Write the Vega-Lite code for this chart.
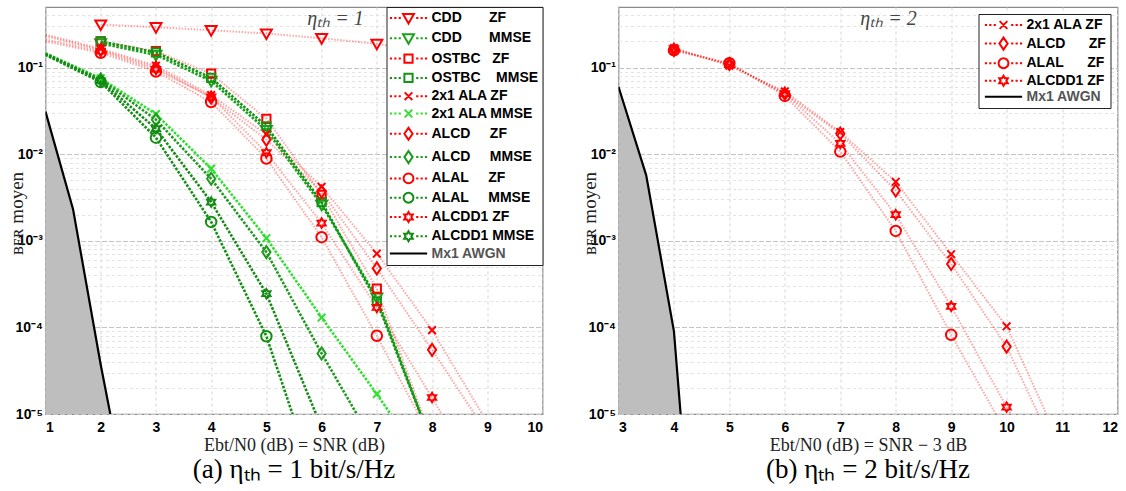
{
"$schema": "https://vega.github.io/schema/vega-lite/v6.json",
"background": "white",
"padding": {"left": 6.5, "top": 5, "right": 0, "bottom": 0},
"spacing": 35,
"config": {
 "view": {"stroke": "#8a8a8a", "strokeWidth": 1.2},
 "style": {"guide-title": {"fontSize": 18, "font": "Liberation Serif", "fontWeight": "normal"}, "guide-label": {"fontSize": 14, "font": "Liberation Sans", "fontWeight": "bold"}},
 "axis": {"labelFont": "Liberation Sans", "labelFontWeight": "bold", "labelFontSize": 14, "labelColor": "#000", "domain": false, "ticks": false, "titleFont": "Liberation Serif", "titleFontWeight": "normal", "titleColor": "#222", "titleFontSize": 18},
 "legend": {"labelFont": "Liberation Sans", "labelFontWeight": "bold", "labelFontSize": 14, "labelColor": "#000"}
},
"datasets": {
 "left": [
  {"series":"CDD ZF","x":2,"ber":0.314},{"series":"CDD ZF","x":3,"ber":0.292},{"series":"CDD ZF","x":4,"ber":0.27},{"series":"CDD ZF","x":5,"ber":0.247},{"series":"CDD ZF","x":6,"ber":0.218},{"series":"CDD ZF","x":7,"ber":0.188},{"series":"CDD ZF","x":8,"ber":0.15},{"series":"CDD ZF","x":9,"ber":0.1},{"series":"CDD ZF","x":10,"ber":0.046},
  {"series":"CDD MMSE","x":2,"ber":0.19},{"series":"CDD MMSE","x":3,"ber":0.14},{"series":"CDD MMSE","x":4,"ber":0.07},{"series":"CDD MMSE","x":5,"ber":0.019},{"series":"CDD MMSE","x":6,"ber":0.0026},{"series":"CDD MMSE","x":7,"ber":0.00022},{"series":"CDD MMSE","x":8,"ber":4.5e-6},
  {"series":"OSTBC ZF","x":2,"ber":0.2},{"series":"OSTBC ZF","x":3,"ber":0.155},{"series":"OSTBC ZF","x":4,"ber":0.085},{"series":"OSTBC ZF","x":5,"ber":0.0256},{"series":"OSTBC ZF","x":6,"ber":0.0034},{"series":"OSTBC ZF","x":7,"ber":0.00028},{"series":"OSTBC ZF","x":8,"ber":5e-6},
  {"series":"OSTBC MMSE","x":2,"ber":0.2},{"series":"OSTBC MMSE","x":3,"ber":0.15},{"series":"OSTBC MMSE","x":4,"ber":0.076},{"series":"OSTBC MMSE","x":5,"ber":0.021},{"series":"OSTBC MMSE","x":6,"ber":0.0028},{"series":"OSTBC MMSE","x":7,"ber":0.0002},{"series":"OSTBC MMSE","x":8,"ber":4.5e-6},
  {"series":"2x1 ALA ZF","x":1,"ber":0.24},{"series":"2x1 ALA ZF","x":2,"ber":0.165},{"series":"2x1 ALA ZF","x":3,"ber":0.105},{"series":"2x1 ALA ZF","x":4,"ber":0.048},{"series":"2x1 ALA ZF","x":5,"ber":0.017},{"series":"2x1 ALA ZF","x":6,"ber":0.0042},{"series":"2x1 ALA ZF","x":7,"ber":0.00071},{"series":"2x1 ALA ZF","x":8,"ber":9.3e-5},{"series":"2x1 ALA ZF","x":9,"ber":8e-6},
  {"series":"2x1 ALA MMSE","x":1,"ber":0.146},{"series":"2x1 ALA MMSE","x":2,"ber":0.075},{"series":"2x1 ALA MMSE","x":3,"ber":0.029},{"series":"2x1 ALA MMSE","x":4,"ber":0.0068},{"series":"2x1 ALA MMSE","x":5,"ber":0.00107},{"series":"2x1 ALA MMSE","x":6,"ber":0.00013},{"series":"2x1 ALA MMSE","x":7,"ber":1.7e-5},{"series":"2x1 ALA MMSE","x":8,"ber":2e-6},
  {"series":"ALCD ZF","x":1,"ber":0.23},{"series":"ALCD ZF","x":2,"ber":0.16},{"series":"ALCD ZF","x":3,"ber":0.1},{"series":"ALCD ZF","x":4,"ber":0.045},{"series":"ALCD ZF","x":5,"ber":0.0147},{"series":"ALCD ZF","x":6,"ber":0.0037},{"series":"ALCD ZF","x":7,"ber":0.00048},{"series":"ALCD ZF","x":8,"ber":5.5e-5},{"series":"ALCD ZF","x":9,"ber":6e-6},
  {"series":"ALCD MMSE","x":1,"ber":0.145},{"series":"ALCD MMSE","x":2,"ber":0.073},{"series":"ALCD MMSE","x":3,"ber":0.025},{"series":"ALCD MMSE","x":4,"ber":0.0052},{"series":"ALCD MMSE","x":5,"ber":0.00074},{"series":"ALCD MMSE","x":6,"ber":5e-5},{"series":"ALCD MMSE","x":7,"ber":4e-6},
  {"series":"ALAL ZF","x":1,"ber":0.2},{"series":"ALAL ZF","x":2,"ber":0.148},{"series":"ALAL ZF","x":3,"ber":0.09},{"series":"ALAL ZF","x":4,"ber":0.04},{"series":"ALAL ZF","x":5,"ber":0.0089},{"series":"ALAL ZF","x":6,"ber":0.0011},{"series":"ALAL ZF","x":7,"ber":8e-5},{"series":"ALAL ZF","x":8,"ber":5e-6},
  {"series":"ALAL MMSE","x":1,"ber":0.14},{"series":"ALAL MMSE","x":2,"ber":0.068},{"series":"ALAL MMSE","x":3,"ber":0.0155},{"series":"ALAL MMSE","x":4,"ber":0.00165},{"series":"ALAL MMSE","x":5,"ber":7.9e-5},{"series":"ALAL MMSE","x":6,"ber":1e-6},
  {"series":"ALCDD1 ZF","x":1,"ber":0.21},{"series":"ALCDD1 ZF","x":2,"ber":0.155},{"series":"ALCDD1 ZF","x":3,"ber":0.095},{"series":"ALCDD1 ZF","x":4,"ber":0.046},{"series":"ALCDD1 ZF","x":5,"ber":0.0104},{"series":"ALCDD1 ZF","x":6,"ber":0.0016},{"series":"ALCDD1 ZF","x":7,"ber":0.00017},{"series":"ALCDD1 ZF","x":8,"ber":1.55e-5},{"series":"ALCDD1 ZF","x":9,"ber":1.2e-6},
  {"series":"ALCDD1 MMSE","x":1,"ber":0.143},{"series":"ALCDD1 MMSE","x":2,"ber":0.07},{"series":"ALCDD1 MMSE","x":3,"ber":0.0197},{"series":"ALCDD1 MMSE","x":4,"ber":0.0028},{"series":"ALCDD1 MMSE","x":5,"ber":0.000245},{"series":"ALCDD1 MMSE","x":6,"ber":7e-6},
  {"series":"Mx1 AWGN","x":1,"ber":0.031},{"series":"Mx1 AWGN","x":1.5,"ber":0.0023},{"series":"Mx1 AWGN","x":2,"ber":3.7e-5},{"series":"Mx1 AWGN","x":2.5,"ber":8.5e-7}
 ],
 "right": [
  {"series":"2x1 ALA ZF","x":4,"ber":0.168},{"series":"2x1 ALA ZF","x":5,"ber":0.105},{"series":"2x1 ALA ZF","x":6,"ber":0.053},{"series":"2x1 ALA ZF","x":7,"ber":0.018},{"series":"2x1 ALA ZF","x":8,"ber":0.0048},{"series":"2x1 ALA ZF","x":9,"ber":0.0007},{"series":"2x1 ALA ZF","x":10,"ber":0.000103},{"series":"2x1 ALA ZF","x":11,"ber":4e-6},
  {"series":"ALCD ZF","x":4,"ber":0.16},{"series":"ALCD ZF","x":5,"ber":0.11},{"series":"ALCD ZF","x":6,"ber":0.05},{"series":"ALCD ZF","x":7,"ber":0.0173},{"series":"ALCD ZF","x":8,"ber":0.0038},{"series":"ALCD ZF","x":9,"ber":0.00054},{"series":"ALCD ZF","x":10,"ber":6e-5},{"series":"ALCD ZF","x":11,"ber":2.6e-6},
  {"series":"ALAL ZF","x":4,"ber":0.158},{"series":"ALAL ZF","x":5,"ber":0.112},{"series":"ALAL ZF","x":6,"ber":0.047},{"series":"ALAL ZF","x":7,"ber":0.0107},{"series":"ALAL ZF","x":8,"ber":0.0013},{"series":"ALAL ZF","x":9,"ber":8.2e-5},{"series":"ALAL ZF","x":10,"ber":6e-6},
  {"series":"ALCDD1 ZF","x":4,"ber":0.165},{"series":"ALCDD1 ZF","x":5,"ber":0.108},{"series":"ALCDD1 ZF","x":6,"ber":0.05},{"series":"ALCDD1 ZF","x":7,"ber":0.0133},{"series":"ALCDD1 ZF","x":8,"ber":0.002},{"series":"ALCDD1 ZF","x":9,"ber":0.000175},{"series":"ALCDD1 ZF","x":10,"ber":1.2e-5},{"series":"ALCDD1 ZF","x":11,"ber":1e-6},
  {"series":"Mx1 AWGN","x":3,"ber":0.06},{"series":"Mx1 AWGN","x":3.5,"ber":0.0057},{"series":"Mx1 AWGN","x":4,"ber":9e-5},{"series":"Mx1 AWGN","x":4.5,"ber":1e-8}
 ]
},
"resolve": {"scale": {"x": "independent", "y": "independent", "color": "independent"}, "legend": {"color": "independent"}},
"hconcat": [
 {
  "width": 497, "height": 407,
  "data": {"name": "left"},
  "title": {"text": "(a) ηₜₕ = 1 bit/s/Hz", "orient": "bottom", "font": "Liberation Serif", "fontSize": 27, "fontWeight": "normal", "color": "#000", "offset": 3, "anchor": "middle"},
  "encoding": {
   "x": {"field": "x", "type": "quantitative", "scale": {"domain": [1, 10], "nice": false, "zero": false},
    "axis": {"values": [1,2,3,4,5,6,7,8,9,10], "grid": true, "gridColor": "#d4d4d4", "gridDash": [3,3], "labelPadding": 6, "titlePadding": 2, "titleFontSize": 18, "title": "Ebt/N0 (dB) = SNR (dB)"}},
   "y": {"field": "ber", "type": "quantitative", "scale": {"type": "log", "domain": [1e-5, 0.5], "nice": false},
    "axis": {"values": [1e-5,2e-5,3e-5,4e-5,5e-5,6e-5,7e-5,8e-5,9e-5,1e-4,2e-4,3e-4,4e-4,5e-4,6e-4,7e-4,8e-4,9e-4,0.001,0.002,0.003,0.004,0.005,0.006,0.007,0.008,0.009,0.01,0.02,0.03,0.04,0.05,0.06,0.07,0.08,0.09,0.1,0.2,0.3,0.4],
     "labelExpr": "abs(log(datum.value)/LN10 - round(log(datum.value)/LN10)) < 0.01 ? '10' + ['⁻⁵','⁻⁴','⁻³','⁻²','⁻¹'][round(log(datum.value)/LN10) + 5] : ''",
     "labelOverlap": false, "labelPadding": 3, "grid": true,
     "gridColor": {"condition": {"test": "abs(log(datum.value)/LN10 - round(log(datum.value)/LN10)) < 0.01", "value": "#c4c4c4"}, "value": "#e3e3e3"},
     "gridDash": {"condition": {"test": "abs(log(datum.value)/LN10 - round(log(datum.value)/LN10)) < 0.01", "value": [5,2]}, "value": [3,3]},
     "title": "ʙᴇʀ moyen", "titleX": -29, "titleY": 206, "titleBaseline": "middle", "titleFontSize": 19}},
   "color": {"field": "series", "type": "nominal",
    "scale": {"domain": ["CDD ZF","CDD MMSE","OSTBC ZF","OSTBC MMSE","2x1 ALA ZF","2x1 ALA MMSE","ALCD ZF","ALCD MMSE","ALAL ZF","ALAL MMSE","ALCDD1 ZF","ALCDD1 MMSE","Mx1 AWGN"],
     "range": ["#ff0000","#1aa31a","#ff0000","#149414","#ff0000","#2ee02e","#ff0000","#1e9a1e","#ff0000","#109010","#ff0000","#138a13","#000000"]},
    "legend": {"title": null, "orient": "top-right", "offset": 0, "padding": 4, "fillColor": "white", "strokeColor": "#222",
     "labelFont": "Liberation Sans", "labelFontWeight": "bold", "labelFontSize": 14, "labelColor": "#000", "labelLimit": 0,
     "symbolSize": 120, "symbolStrokeWidth": 2, "symbolOpacity": 1, "symbolDash": [], "rowPadding": 1.3, "symbolOffset": 11, "labelOffset": 16,
     "labelExpr": "['CDD\u00a0\u00a0\u00a0\u00a0\u00a0\u00a0\u00a0ZF','CDD\u00a0\u00a0\u00a0\u00a0\u00a0\u00a0\u00a0MMSE','OSTBC\u00a0\u00a0\u00a0ZF','OSTBC\u00a0\u00a0\u00a0\u00a0MMSE','2x1 ALA ZF','2x1 ALA MMSE','ALCD\u00a0\u00a0\u00a0\u00a0\u00a0ZF','ALCD\u00a0\u00a0\u00a0\u00a0\u00a0MMSE','ALAL\u00a0\u00a0\u00a0\u00a0\u00a0ZF','ALAL\u00a0\u00a0\u00a0\u00a0\u00a0MMSE','ALCDD1 ZF','ALCDD1 MMSE','Mx1 AWGN'][indexof(['CDD ZF','CDD MMSE','OSTBC ZF','OSTBC MMSE','2x1 ALA ZF','2x1 ALA MMSE','ALCD ZF','ALCD MMSE','ALAL ZF','ALAL MMSE','ALCDD1 ZF','ALCDD1 MMSE','Mx1 AWGN'], datum.value)]",
     "encode": {
      "labels": {"update": {"fill": {"signal": "datum.value === 'Mx1 AWGN' ? '#555555' : '#000000'"}}},
      "symbols": {"update": {"fill": {"value": "transparent"}, "strokeDash": {"value": []}, "opacity": {"value": 1}, "shape": {"signal": "datum.value === 'Mx1 AWGN' ? 'M-3.4,0L3.4,0' : 'M-3.4,0L-3,0M-2.6,0L-2.2,0M-1.8,0L-1.4,0M1.4,0L1.8,0M2.2,0L2.6,0M3,0L3.4,0' + ['M-1,-0.75L1,-0.75L0,1Z','M-0.75,-0.75L0.75,-0.75L0.75,0.75L-0.75,0.75Z','M-0.7,-0.7L0.7,0.7M-0.7,0.7L0.7,-0.7','M0,-1.1L0.75,0L0,1.1L-0.75,0Z','M-0.9,0A0.9,0.9,0,1,0,0.9,0A0.9,0.9,0,1,0,-0.9,0Z','M0,-0.9L0.26,-0.45L0.78,-0.45L0.52,0L0.78,0.45L0.26,0.45L0,0.9L-0.26,0.45L-0.78,0.45L-0.52,0L-0.78,-0.45L-0.26,-0.45Z'][floor(indexof(['CDD ZF','CDD MMSE','OSTBC ZF','OSTBC MMSE','2x1 ALA ZF','2x1 ALA MMSE','ALCD ZF','ALCD MMSE','ALAL ZF','ALAL MMSE','ALCDD1 ZF','ALCDD1 MMSE'], datum.value) / 2)]"}}}
     }}}
  },
  "layer": [
   {"transform": [{"filter": "datum.series === 'Mx1 AWGN'"}], "mark": {"type": "area", "clip": true}, "encoding": {"y2": {"datum": 1e-5}, "color": {"value": "#bebebe"}}},
   {"transform": [{"filter": "indexof(datum.series, 'ZF') >= 0"}], "mark": {"type": "line", "strokeWidth": 2, "strokeDash": [1.5,1.5], "opacity": 0.35, "clip": true}, "encoding": {}},
   {"transform": [{"filter": "indexof(datum.series, 'MMSE') >= 0"}], "mark": {"type": "line", "strokeWidth": 2.6, "strokeDash": [2.5,1.5], "clip": true}, "encoding": {}},
   {"transform": [{"filter": "datum.series === 'Mx1 AWGN'"}], "mark": {"type": "line", "strokeWidth": 2.2, "clip": true}, "encoding": {}},
   {"transform": [{"filter": "indexof(datum.series, 'CDD ') === 0 && datum.x >= 2"}], "mark": {"type": "point", "shape": "M-1,-0.75L1,-0.75L0,1Z", "filled": false, "strokeWidth": 2, "size": 120, "opacity": 1, "clip": true}, "encoding": {}},
   {"transform": [{"filter": "indexof(datum.series, 'OSTBC') === 0 && datum.x >= 2"}], "mark": {"type": "point", "shape": "M-0.75,-0.75L0.75,-0.75L0.75,0.75L-0.75,0.75Z", "filled": false, "strokeWidth": 2, "size": 120, "opacity": 1, "clip": true}, "encoding": {}},
   {"transform": [{"filter": "indexof(datum.series, '2x1 ALA') === 0 && datum.x >= 2"}], "mark": {"type": "point", "shape": "M-0.7,-0.7L0.7,0.7M-0.7,0.7L0.7,-0.7", "filled": false, "strokeWidth": 2, "size": 120, "opacity": 1, "clip": true}, "encoding": {}},
   {"transform": [{"filter": "(datum.series === 'ALCD ZF' || datum.series === 'ALCD MMSE') && datum.x >= 2"}], "mark": {"type": "point", "shape": "M0,-1.1L0.75,0L0,1.1L-0.75,0Z", "filled": false, "strokeWidth": 2, "size": 120, "opacity": 1, "clip": true}, "encoding": {}},
   {"transform": [{"filter": "indexof(datum.series, 'ALAL') === 0 && datum.x >= 2"}], "mark": {"type": "point", "shape": "circle", "filled": false, "strokeWidth": 2, "size": 110, "opacity": 1, "clip": true}, "encoding": {}},
   {"transform": [{"filter": "indexof(datum.series, 'ALCDD1') === 0 && datum.x >= 2"}], "mark": {"type": "point", "shape": "M0,-0.9L0.26,-0.45L0.78,-0.45L0.52,0L0.78,0.45L0.26,0.45L0,0.9L-0.26,0.45L-0.78,0.45L-0.52,0L-0.78,-0.45L-0.26,-0.45Z", "filled": false, "strokeWidth": 2, "size": 110, "opacity": 1, "clip": true}, "encoding": {}},
   {"transform": [{"filter": "datum.series === 'CDD ZF' && datum.x === 2"}], "mark": {"type": "text", "font": "Liberation Serif", "fontSize": 20, "fontStyle": "italic", "clip": false},
    "encoding": {"x": {"datum": 6.25}, "y": {"datum": 0.36}, "text": {"value": "ηₜₕ = 1"}, "color": {"value": "#444444"}}}
  ]
 },
 {
  "width": 499, "height": 407,
  "data": {"name": "right"},
  "title": {"text": "(b) ηₜₕ = 2 bit/s/Hz", "orient": "bottom", "font": "Liberation Serif", "fontSize": 27, "fontWeight": "normal", "color": "#000", "offset": 3, "anchor": "middle"},
  "encoding": {
   "x": {"field": "x", "type": "quantitative", "scale": {"domain": [3, 12], "nice": false, "zero": false},
    "axis": {"values": [3,4,5,6,7,8,9,10,11,12], "grid": true, "gridColor": "#d4d4d4", "gridDash": [3,3], "labelPadding": 6, "titlePadding": 2, "titleFontSize": 18, "title": "Ebt/N0 (dB) = SNR − 3 dB"}},
   "y": {"field": "ber", "type": "quantitative", "scale": {"type": "log", "domain": [1e-5, 0.5], "nice": false},
    "axis": {"values": [1e-5,2e-5,3e-5,4e-5,5e-5,6e-5,7e-5,8e-5,9e-5,1e-4,2e-4,3e-4,4e-4,5e-4,6e-4,7e-4,8e-4,9e-4,0.001,0.002,0.003,0.004,0.005,0.006,0.007,0.008,0.009,0.01,0.02,0.03,0.04,0.05,0.06,0.07,0.08,0.09,0.1,0.2,0.3,0.4],
     "labelExpr": "abs(log(datum.value)/LN10 - round(log(datum.value)/LN10)) < 0.01 ? '10' + ['⁻⁵','⁻⁴','⁻³','⁻²','⁻¹'][round(log(datum.value)/LN10) + 5] : ''",
     "labelOverlap": false, "labelPadding": 3, "grid": true,
     "gridColor": {"condition": {"test": "abs(log(datum.value)/LN10 - round(log(datum.value)/LN10)) < 0.01", "value": "#c4c4c4"}, "value": "#e3e3e3"},
     "gridDash": {"condition": {"test": "abs(log(datum.value)/LN10 - round(log(datum.value)/LN10)) < 0.01", "value": [5,2]}, "value": [3,3]},
     "title": "ʙᴇʀ moyen", "titleX": -29, "titleY": 206, "titleBaseline": "middle", "titleFontSize": 19}},
   "color": {"field": "series", "type": "nominal",
    "scale": {"domain": ["2x1 ALA ZF","ALCD ZF","ALAL ZF","ALCDD1 ZF","Mx1 AWGN"], "range": ["#ff0000","#ff0000","#ff0000","#ff0000","#000000"]},
    "legend": {"title": null, "orient": "top-right", "offset": 7, "padding": 4, "fillColor": "white", "strokeColor": "#222",
     "labelFont": "Liberation Sans", "labelFontWeight": "bold", "labelFontSize": 14, "labelColor": "#000", "labelLimit": 0,
     "symbolSize": 120, "symbolStrokeWidth": 2, "symbolOpacity": 1, "symbolDash": [], "rowPadding": -0.4, "symbolOffset": 14, "labelOffset": 16,
     "labelExpr": "['2x1 ALA ZF','ALCD\u00a0\u00a0\u00a0\u00a0\u00a0\u00a0ZF','ALAL\u00a0\u00a0\u00a0\u00a0\u00a0\u00a0ZF','ALCDD1 ZF','Mx1 AWGN'][indexof(['2x1 ALA ZF','ALCD ZF','ALAL ZF','ALCDD1 ZF','Mx1 AWGN'], datum.value)]",
     "encode": {
      "labels": {"update": {"fill": {"signal": "datum.value === 'Mx1 AWGN' ? '#555555' : '#000000'"}}},
      "symbols": {"update": {"fill": {"value": "transparent"}, "strokeDash": {"value": []}, "opacity": {"value": 1}, "shape": {"signal": "datum.value === 'Mx1 AWGN' ? 'M-3.4,0L3.4,0' : 'M-3.4,0L-3,0M-2.6,0L-2.2,0M-1.8,0L-1.4,0M1.4,0L1.8,0M2.2,0L2.6,0M3,0L3.4,0' + ['M-0.7,-0.7L0.7,0.7M-0.7,0.7L0.7,-0.7','M0,-1.1L0.75,0L0,1.1L-0.75,0Z','M-0.9,0A0.9,0.9,0,1,0,0.9,0A0.9,0.9,0,1,0,-0.9,0Z','M0,-0.9L0.26,-0.45L0.78,-0.45L0.52,0L0.78,0.45L0.26,0.45L0,0.9L-0.26,0.45L-0.78,0.45L-0.52,0L-0.78,-0.45L-0.26,-0.45Z'][indexof(['2x1 ALA ZF','ALCD ZF','ALAL ZF','ALCDD1 ZF'], datum.value)]"}}}
     }}}
  },
  "layer": [
   {"transform": [{"filter": "datum.series === 'Mx1 AWGN'"}], "mark": {"type": "area", "clip": true}, "encoding": {"y2": {"datum": 1e-5}, "color": {"value": "#bebebe"}}},
   {"transform": [{"filter": "indexof(datum.series, 'ZF') >= 0"}], "mark": {"type": "line", "strokeWidth": 2, "strokeDash": [1.5,1.5], "opacity": 0.35, "clip": true}, "encoding": {}},
   {"transform": [{"filter": "datum.series === 'Mx1 AWGN'"}], "mark": {"type": "line", "strokeWidth": 2.2, "clip": true}, "encoding": {}},
   {"transform": [{"filter": "indexof(datum.series, '2x1 ALA') === 0"}], "mark": {"type": "point", "shape": "M-0.7,-0.7L0.7,0.7M-0.7,0.7L0.7,-0.7", "filled": false, "strokeWidth": 2, "size": 120, "opacity": 1, "clip": true}, "encoding": {}},
   {"transform": [{"filter": "datum.series === 'ALCD ZF'"}], "mark": {"type": "point", "shape": "M0,-1.1L0.75,0L0,1.1L-0.75,0Z", "filled": false, "strokeWidth": 2, "size": 120, "opacity": 1, "clip": true}, "encoding": {}},
   {"transform": [{"filter": "datum.series === 'ALAL ZF'"}], "mark": {"type": "point", "shape": "circle", "filled": false, "strokeWidth": 2, "size": 110, "opacity": 1, "clip": true}, "encoding": {}},
   {"transform": [{"filter": "datum.series === 'ALCDD1 ZF'"}], "mark": {"type": "point", "shape": "M0,-0.9L0.26,-0.45L0.78,-0.45L0.52,0L0.78,0.45L0.26,0.45L0,0.9L-0.26,0.45L-0.78,0.45L-0.52,0L-0.78,-0.45L-0.26,-0.45Z", "filled": false, "strokeWidth": 2, "size": 110, "opacity": 1, "clip": true}, "encoding": {}},
   {"transform": [{"filter": "datum.series === 'ALCD ZF' && datum.x === 4"}], "mark": {"type": "text", "font": "Liberation Serif", "fontSize": 20, "fontStyle": "italic", "clip": false},
    "encoding": {"x": {"datum": 7.87}, "y": {"datum": 0.36}, "text": {"value": "ηₜₕ = 2"}, "color": {"value": "#444444"}}}
  ]
 }
]
}
